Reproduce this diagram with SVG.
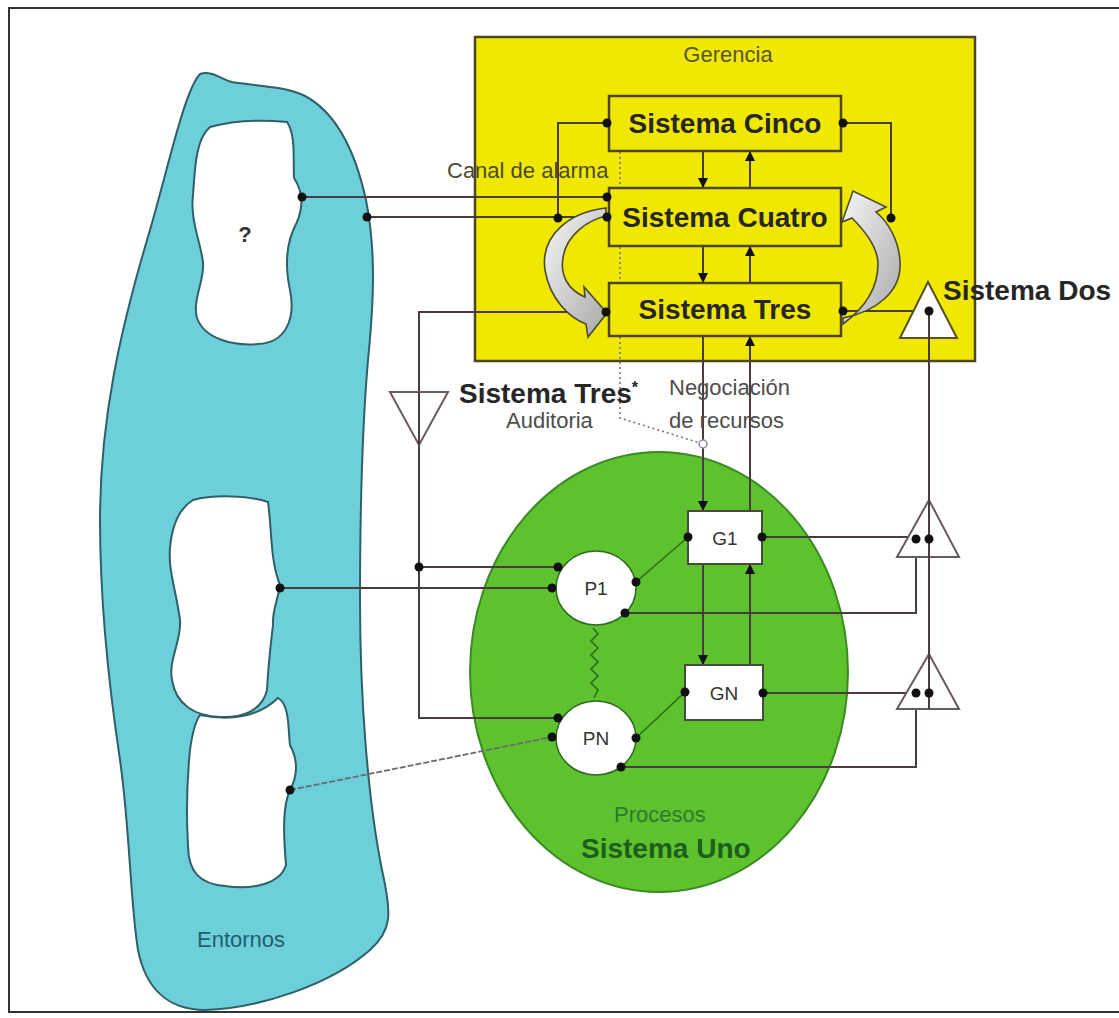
<svg xmlns="http://www.w3.org/2000/svg" width="1119" height="1018" viewBox="0 0 1119 1018">
<style>
text{font-family:"Liberation Sans",Arial,sans-serif}
.sys{font-size:28px;font-weight:bold;fill:#262626}
.lbl{font-size:22px;fill:#4d4d4d}
.ln{fill:none;stroke:#4a3c3c;stroke-width:2}
.gl{fill:none;stroke:#2e6a1e;stroke-width:1.6}
.dot{fill:#111}
.box{fill:#f0e800;stroke:#4d4520;stroke-width:2.5}
.wbox{fill:#ffffff;stroke:#4a4a3a;stroke-width:2}
.tri{fill:#ffffff;stroke:#6a5a5a;stroke-width:2}
.hole{fill:#ffffff;stroke:#2f6068;stroke-width:2}
.hollow{fill:url(#gr);stroke:#4a4a30;stroke-width:1.6}
.node{font-size:19px;fill:#333;text-anchor:middle}
</style>
<defs>
<marker id="ah" markerUnits="userSpaceOnUse" markerWidth="10" markerHeight="12" refX="10" refY="5" orient="auto" viewBox="0 0 10 10">
<path d="M0,0 L10,5 L0,10 z" fill="#111"/>
</marker>
<linearGradient id="gr" x1="0" y1="0" x2="1" y2="1">
<stop offset="0" stop-color="#f6f6f6"/>
<stop offset="1" stop-color="#a9a9a9"/>
</linearGradient>
</defs>
<rect width="1119" height="1018" fill="#ffffff"/>
<g id="frame">
<path d="M1119,8 H9 V1012 H1119" fill="none" stroke="#333" stroke-width="2"/>
</g>
<g id="entornos">
<path d="M200,74 C212,70 222,80 232,82 C255,86 285,86 305,96 C335,112 355,150 366,200 C376,250 374,300 368,360 C362,430 360,520 360,600 C360,700 368,800 382,870 C392,915 392,930 370,950 C330,985 260,1008 205,1010 C165,1010 145,985 138,950 C130,900 130,830 120,760 C108,680 100,600 100,520 C100,420 120,330 150,230 C170,160 185,90 200,74 Z" fill="#6ccfd9" stroke="#2f6068" stroke-width="2"/>
<path class="hole" d="M210,127 C235,120 265,120 287,122 C296,135 293,160 294,178 C302,190 304,205 297,222 C287,240 284,262 290,290 C296,320 285,343 258,344 C235,346 205,340 197,318 C192,300 205,280 203,262 C200,240 190,220 193,195 C195,170 195,140 210,127 Z"/>
<path class="hole" d="M200,715 C225,720 255,720 278,698 C290,705 288,730 290,745 C298,760 298,775 290,790 C283,805 283,830 286,865 C280,885 250,890 225,886 C200,884 188,872 188,845 C186,810 187,780 190,750 C192,735 195,722 200,715 Z"/>
<path class="hole" d="M193,500 C215,494 250,496 268,502 C272,530 270,560 280,585 C278,600 272,610 273,625 C270,650 268,670 267,690 C262,712 240,718 220,717 C195,716 176,705 172,680 C168,660 182,640 180,620 C176,590 168,570 170,548 C172,525 180,508 193,500 Z"/>
<text x="245" y="242" text-anchor="middle" style="font-size:22px;font-weight:bold;fill:#333">?</text>
<text x="197" y="947" style="font-size:22px;fill:#1f5f70">Entornos</text>
</g>
<g id="gerencia">
<rect x="475" y="37" width="500" height="324" fill="#f0e800" stroke="#4d4520" stroke-width="2.5"/>
<text x="728" y="62" text-anchor="middle" style="font-size:22px;fill:#5a5528">Gerencia</text>
</g>
<g id="sistema-uno">
<ellipse cx="659" cy="672" rx="189" ry="220" fill="#5dc22d" stroke="#3a8a22" stroke-width="2"/>
<text x="614" y="822" style="font-size:22px;fill:#2e7a2e">Procesos</text>
<text x="581" y="858" class="sys" style="fill:#1d5e1d">Sistema Uno</text>
</g>
<g id="connectors">
<path class="ln" d="M703,151 V188" marker-end="url(#ah)"/>
<path class="ln" d="M750,188 V151" marker-end="url(#ah)"/>
<path class="ln" d="M703,246 V283" marker-end="url(#ah)"/>
<path class="ln" d="M750,283 V246" marker-end="url(#ah)"/>
<path class="ln" d="M703,336 V511" marker-end="url(#ah)"/>
<path class="ln" d="M750,511 V336" marker-end="url(#ah)"/>
<path class="ln" d="M703,564 V665" marker-end="url(#ah)"/>
<path class="ln" d="M750,665 V564" marker-end="url(#ah)"/>
<path class="ln" d="M607,123 H558 V218"/>
<path class="ln" d="M843,123 H891 V218"/>
<path class="ln" d="M302,197 H607"/>
<path class="ln" d="M367,217 H607"/>
<path class="ln" d="M606,312 H419 V718 H558"/>
<path class="ln" d="M843,311 H929 V709"/>
<path class="ln" d="M419,567 H558"/>
<path class="ln" d="M280,588 H552"/>
<path d="M290,790 L552,737" fill="none" stroke="#6a6a6a" stroke-width="1.8" stroke-dasharray="6,2"/>
<path class="ln" d="M762,537 H929"/>
<path class="ln" d="M763,693 H929"/>
<path class="ln" d="M625,613 H916 V539"/>
<path class="ln" d="M621,767 H916 V693"/>
<path class="gl" d="M636,582 L688,537"/>
<path class="gl" d="M636,738 L685,692"/>
<path class="gl" d="M593,628 L598,634 L591,641 L598,648 L591,655 L598,662 L591,669 L598,676 L591,683 L598,690 L594,698"/>
<path d="M620,152 V418 L700,443" fill="none" stroke="#777" stroke-width="1.6" stroke-dasharray="2,3"/>
<circle cx="703" cy="444" r="4" fill="#fff" stroke="#8a8aa8" stroke-width="1.5"/>
<path d="M628,144 L621,140 L623,137 L613,138 L617,130 L619,134 L627,137" fill="none" stroke="#8fc050" stroke-width="1.2"/>
</g>
<g id="sistema-cinco">
<rect class="box" x="609" y="96" width="232" height="55"/>
<text class="sys" x="725" y="133" text-anchor="middle">Sistema Cinco</text>
</g>
<g id="sistema-cuatro">
<rect class="box" x="609" y="188" width="232" height="58"/>
<text class="sys" x="725" y="227" text-anchor="middle">Sistema Cuatro</text>
</g>
<g id="sistema-tres">
<rect class="box" x="609" y="283" width="232" height="53"/>
<text class="sys" x="725" y="319" text-anchor="middle">Sistema Tres</text>
</g>
<g id="homeostato">
<path class="hollow" d="M606,208 C570,212 540,235 545,270 C550,300 570,318 586,324 L588,337 L607,313 L584,287 L585,297 C568,290 560,275 563,258 C566,235 588,220 606,216 Z"/>
<path class="hollow" d="M843,318 C875,312 902,292 900,262 C899,240 888,222 876,212 L886,207 L853,191 L842,222 L852,218 C866,232 878,248 878,264 C878,290 862,310 843,324 Z"/>
</g>
<g id="sistema-dos">
<polygon class="tri" points="928,282 900,338 957,338" style="stroke:#5a5020"/>
<polygon class="tri" points="929,500 897,557 959,557"/>
<polygon class="tri" points="929,654 897,709 959,709"/>
<path class="ln" d="M929,311 V709"/>
<text class="sys" x="943" y="300">Sistema Dos</text>
</g>
<g id="sistema-tres-star">
<polygon class="tri" points="390,392 448,392 419,445"/>
<path class="ln" d="M419,392 V445"/>
<text class="sys" x="459" y="403">Sistema Tres<tspan dy="-10" style="font-size:16px">*</tspan></text>
<text class="lbl" x="506" y="428">Auditoria</text>
</g>
<g id="labels">
<text class="lbl" x="447" y="178" style="fill:#4a4a30">Canal de alarma</text>
<text class="lbl" x="669" y="395">Negociación</text>
<text class="lbl" x="669" y="428">de recursos</text>
</g>
<g id="p1">
<ellipse cx="596" cy="588" rx="40" ry="37" fill="#fff" stroke="#2e6a1e" stroke-width="1.5"/>
<text class="node" x="596" y="595">P1</text>
</g>
<g id="pn">
<ellipse cx="596" cy="738" rx="40" ry="37" fill="#fff" stroke="#2e6a1e" stroke-width="1.5"/>
<text class="node" x="596" y="745">PN</text>
</g>
<g id="g1">
<rect class="wbox" x="688" y="511" width="74" height="53"/>
<text class="node" x="725" y="545">G1</text>
</g>
<g id="gn">
<rect class="wbox" x="685" y="665" width="78" height="55"/>
<text class="node" x="724" y="700">GN</text>
</g>
<g id="dots">
<circle class="dot" cx="607" cy="123" r="4.5"/>
<circle class="dot" cx="843" cy="123" r="4.5"/>
<circle class="dot" cx="607" cy="197" r="4.5"/>
<circle class="dot" cx="607" cy="217" r="4.5"/>
<circle class="dot" cx="558" cy="218" r="4.5"/>
<circle class="dot" cx="891" cy="218" r="4.5"/>
<circle class="dot" cx="302" cy="197" r="4.5"/>
<circle class="dot" cx="367" cy="217" r="4.5"/>
<circle class="dot" cx="606" cy="312" r="4.5"/>
<circle class="dot" cx="843" cy="311" r="4.5"/>
<circle class="dot" cx="929" cy="311" r="4.5"/>
<circle class="dot" cx="419" cy="567" r="4.5"/>
<circle class="dot" cx="558" cy="567" r="4.5"/>
<circle class="dot" cx="552" cy="588" r="4.5"/>
<circle class="dot" cx="636" cy="582" r="4.5"/>
<circle class="dot" cx="625" cy="613" r="4.5"/>
<circle class="dot" cx="280" cy="588" r="4.5"/>
<circle class="dot" cx="290" cy="790" r="4.5"/>
<circle class="dot" cx="552" cy="737" r="4.5"/>
<circle class="dot" cx="558" cy="718" r="4.5"/>
<circle class="dot" cx="636" cy="738" r="4.5"/>
<circle class="dot" cx="621" cy="767" r="4.5"/>
<circle class="dot" cx="688" cy="537" r="4.5"/>
<circle class="dot" cx="762" cy="537" r="4.5"/>
<circle class="dot" cx="685" cy="692" r="4.5"/>
<circle class="dot" cx="763" cy="693" r="4.5"/>
<circle class="dot" cx="916" cy="539" r="4.5"/>
<circle class="dot" cx="929" cy="539" r="4.5"/>
<circle class="dot" cx="916" cy="693" r="4.5"/>
<circle class="dot" cx="929" cy="693" r="4.5"/>
</g>
</svg>
